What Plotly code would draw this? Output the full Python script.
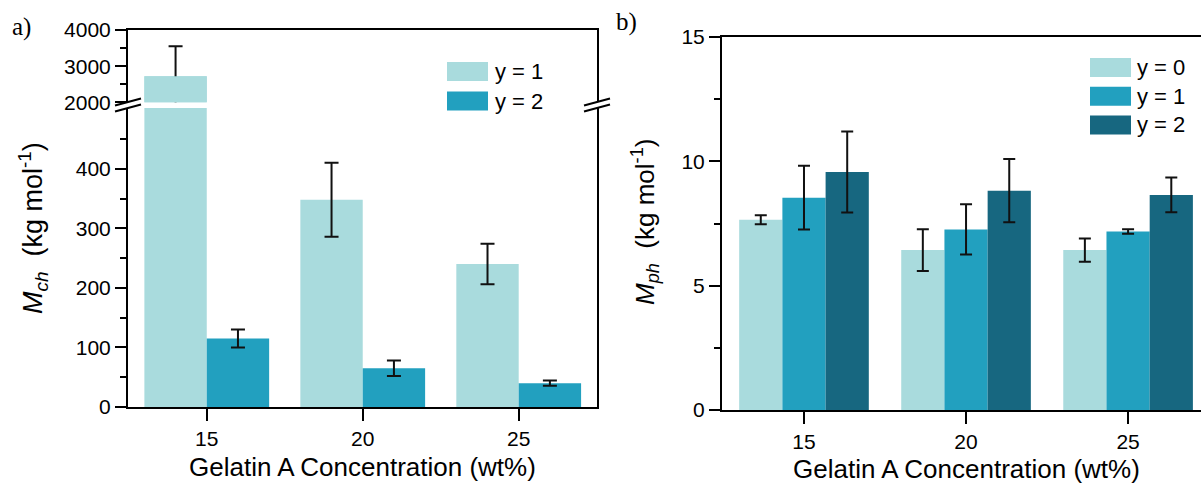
import plotly.graph_objects as go

# ---------------- data ----------------
conc_labels = ["15", "20", "25"]
conc_pos = [0, 1, 2]

# panel a) M_ch (kg/mol)
mch_y1 = [2720, 348, 240]
mch_y1_err = [830, 62, 34]
mch_y2 = [115, 65, 40]
mch_y2_err = [15, 13, 4.5]

# panel b) M_ph (kg/mol)
mph_y0 = [7.65, 6.43, 6.43]
mph_y0_err = [0.18, 0.84, 0.47]
mph_y1 = [8.54, 7.26, 7.18]
mph_y1_err = [1.28, 1.01, 0.09]
mph_y2 = [9.57, 8.82, 8.65]
mph_y2_err = [1.63, 1.27, 0.70]

C_LIGHT = "#A9DBDD"
C_MID = "#22A0BF"
C_DARK = "#176780"
C_ERR = "#111111"

W, H = 1201, 484
FONT = "Arial, Liberation Sans, sans-serif"


def px(x):
    return x / W


def py(y):
    return 1 - y / H


def err(vals, w, show=True):
    return dict(type="data", array=vals, visible=show, color=C_ERR, thickness=2, width=w)


fig = go.Figure()

# ---- panel a, lower part ----
fig.add_bar(x=conc_pos, y=mch_y1, marker_color=C_LIGHT, offsetgroup="a1",
            error_y=err(mch_y1_err, 7), xaxis="x", yaxis="y", showlegend=False)
fig.add_bar(x=conc_pos, y=mch_y2, marker_color=C_MID, offsetgroup="a2",
            error_y=err(mch_y2_err, 7), xaxis="x", yaxis="y", showlegend=False)
# ---- panel a, upper part ----
fig.add_bar(x=conc_pos, y=mch_y1, marker_color=C_LIGHT, offsetgroup="a1",
            error_y=err(mch_y1_err, 7), xaxis="x2", yaxis="y2", showlegend=False)
fig.add_bar(x=conc_pos, y=mch_y2, marker_color=C_MID, offsetgroup="a2",
            xaxis="x2", yaxis="y2", showlegend=False)
# cover the lower half of the error bar inside the bar
fig.add_bar(x=conc_pos, y=mch_y1, marker_color=C_LIGHT, offsetgroup="a1",
            xaxis="x2", yaxis="y2", showlegend=False)

# ---- panel b ----
fig.add_bar(x=conc_pos, y=mph_y0, marker_color=C_LIGHT, offsetgroup="b0",
            error_y=err(mph_y0_err, 6), xaxis="x3", yaxis="y3", showlegend=False)
fig.add_bar(x=conc_pos, y=mph_y1, marker_color=C_MID, offsetgroup="b1",
            error_y=err(mph_y1_err, 6), xaxis="x3", yaxis="y3", showlegend=False)
fig.add_bar(x=conc_pos, y=mph_y2, marker_color=C_DARK, offsetgroup="b2",
            error_y=err(mph_y2_err, 6), xaxis="x3", yaxis="y3", showlegend=False)

axis_common = dict(showgrid=False, zeroline=False, showline=True, linecolor="black",
                   linewidth=2, tickcolor="black", tickwidth=2, automargin=False,
                   tickfont=dict(family=FONT, size=21, color="black"))

fig.update_layout(
    template="none",
    width=W, height=H, autosize=False,
    margin=dict(l=0, r=0, t=0, b=0, pad=0),
    paper_bgcolor="white", plot_bgcolor="white",
    barmode="group", bargap=0.2, bargroupgap=0,
    xaxis=dict(**axis_common, domain=[px(128), px(597)], range=[-0.505, 2.502],
               tickmode="array", tickvals=conc_pos, ticktext=conc_labels,
               ticks="outside", ticklen=12, anchor="y", mirror=False),
    yaxis=dict(**axis_common, domain=[py(407), py(108)], range=[0, 502],
               tickmode="array", tickvals=[0, 100, 200, 300, 400],
               ticks="outside", ticklen=11, anchor="x", mirror=True,
               minor=dict(tickmode="array", tickvals=[50, 150, 250, 350, 450],
                          ticks="outside", ticklen=6, tickwidth=2, tickcolor="black")),
    xaxis2=dict(**axis_common, domain=[px(128), px(597)], range=[-0.505, 2.502],
                side="top", anchor="y2", showticklabels=False, ticks="", matches="x"),
    yaxis2=dict(**axis_common, domain=[py(102.3), py(30)], range=[2000, 4000],
                tickmode="array", tickvals=[2000, 3000, 4000],
                ticks="outside", ticklen=11, anchor="x2", mirror=True,
                minor=dict(tickmode="array", tickvals=[2500, 3500],
                           ticks="outside", ticklen=6, tickwidth=2, tickcolor="black")),
    xaxis3=dict(**axis_common, domain=[px(722), 1.0], range=[-0.506, 2.45],
                tickmode="array", tickvals=conc_pos, ticktext=conc_labels,
                ticks="outside", ticklen=12, anchor="y3", mirror=True),
    yaxis3=dict(**axis_common, domain=[py(410), py(37)], range=[0, 15],
                tickmode="array", tickvals=[0, 5, 10, 15],
                ticks="outside", ticklen=11, anchor="x3", mirror=False,
                minor=dict(tickmode="array", tickvals=[2.5, 7.5, 12.5],
                           ticks="outside", ticklen=6, tickwidth=2, tickcolor="black")),
)

shapes = []
annotations = []

# break marks on panel a
for cx in (128, 597):
    for yy in (105.5, 111.5):
        shapes.append(dict(type="line", xref="paper", yref="paper",
                           x0=px(cx - 13), y0=py(yy), x1=px(cx + 13), y1=py(yy - 7),
                           line=dict(color="black", width=2)))

# legends (drawn manually)
legend_a = [("y = 1", C_LIGHT), ("y = 2", C_MID)]
for i, (lab, col) in enumerate(legend_a):
    y0 = 62 + i * 29.5
    shapes.append(dict(type="rect", xref="paper", yref="paper",
                       x0=px(447), x1=px(488), y0=py(y0 + 19), y1=py(y0),
                       fillcolor=col, line=dict(width=0)))
    annotations.append(dict(xref="paper", yref="paper", x=px(493), y=py(y0 + 9.5),
                            text=lab, showarrow=False, xanchor="left", yanchor="middle",
                            font=dict(family=FONT, size=22, color="black")))

legend_b = [("y = 0", C_LIGHT), ("y = 1", C_MID), ("y = 2", C_DARK)]
for i, (lab, col) in enumerate(legend_b):
    y0 = 58 + i * 28.7
    shapes.append(dict(type="rect", xref="paper", yref="paper",
                       x0=px(1090), x1=px(1131), y0=py(y0 + 19), y1=py(y0),
                       fillcolor=col, line=dict(width=0)))
    annotations.append(dict(xref="paper", yref="paper", x=px(1135), y=py(y0 + 9.5),
                            text=lab, showarrow=False, xanchor="left", yanchor="middle",
                            font=dict(family=FONT, size=22, color="black")))

# axis titles
xtitle = "Gelatin A Concentration (wt%)"
annotations.append(dict(xref="x", yref="paper", x=1, y=py(467), text=xtitle,
                        showarrow=False, xanchor="center", yanchor="middle",
                        font=dict(family=FONT, size=26, color="black")))
annotations.append(dict(xref="x3", yref="paper", x=1, y=py(469), text=xtitle,
                        showarrow=False, xanchor="center", yanchor="middle",
                        font=dict(family=FONT, size=26, color="black")))
annotations.append(dict(xref="paper", yref="paper", x=px(33), y=py(228),
                        text="<i>M</i><sub><i>ch</i></sub>  (kg mol<sup>-1</sup>)",
                        textangle=-90, showarrow=False, xanchor="center", yanchor="middle",
                        font=dict(family=FONT, size=27, color="black")))
annotations.append(dict(xref="paper", yref="paper", x=px(645), y=py(222),
                        text="<i>M</i><sub><i>ph</i></sub>  (kg mol<sup>-1</sup>)",
                        textangle=-90, showarrow=False, xanchor="center", yanchor="middle",
                        font=dict(family=FONT, size=26, color="black")))

# panel labels
annotations.append(dict(xref="paper", yref="paper", x=px(10), y=py(27), text="a)",
                        showarrow=False, xanchor="left", yanchor="middle",
                        font=dict(family="Liberation Serif, Times New Roman, serif", size=25, color="black")))
annotations.append(dict(xref="paper", yref="paper", x=px(614), y=py(22), text="b)",
                        showarrow=False, xanchor="left", yanchor="middle",
                        font=dict(family="Liberation Serif, Times New Roman, serif", size=25, color="black")))

fig.update_layout(shapes=shapes, annotations=annotations)

fig.write_html("out.html", config={"displayModeBar": False},
               post_script="document.body.style.margin='0';document.body.style.overflow='hidden';")
